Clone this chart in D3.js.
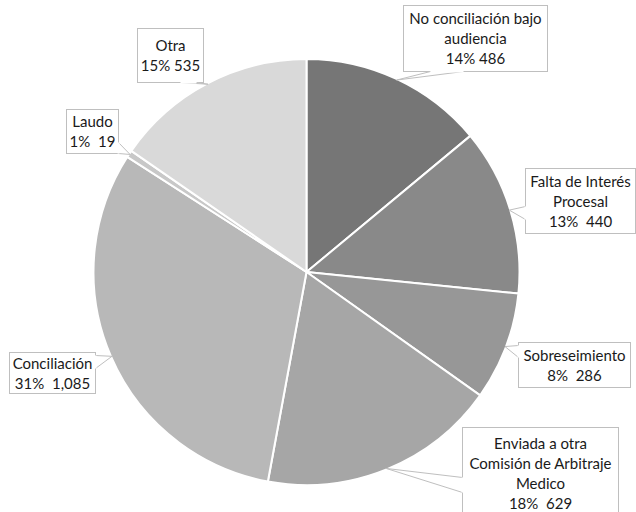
<!DOCTYPE html>
<html>
<head>
<meta charset="utf-8">
<script src="https://cdn.jsdelivr.net/npm/d3@7"></script>
<style>
  html, body { margin: 0; padding: 0; background: #ffffff; }
  svg { display: block; }
  .lbl { font-family: Lato, "Open Sans", sans-serif; font-size: 15px; fill: #1a1a1a; white-space: pre; }
</style>
</head>
<body>
<div id="chart"></div>
<script>
// Data
const categories = [
    ['No conciliación bajo', 'audiencia'],
    ['Falta de Interés', 'Procesal'],
    ['Sobreseimiento'],
    ['Enviada a otra', 'Comisión de Arbitraje', 'Medico'],
    ['Conciliación'],
    ['Laudo'],
    ['Otra']
];
const values = [486, 440, 286, 629, 1085, 19, 535];
const valueGaps = [' ', '  ', '  ', '  ', '  ', '  ', ' '];
const sliceColors = ['#767676', '#898989', '#979797', '#a6a6a6', '#b8b8b8', '#c8c8c8', '#d9d9d9'];

// Callout boxes: [x, y, width, height], pointer base points on the box edge
const boxes = [
    { box: [403, 5, 144, 66], base: [[430, 71], [463, 71]] },
    { box: [525, 168, 110, 65], base: [[525, 206], [525, 219]] },
    { box: [518, 342, 112, 45], base: [[518, 345], [518, 357]] },
    { box: [462, 427, 156, 92], base: [[462, 477], [462, 492]] },
    { box: [9, 352, 86, 41], base: [[95, 355], [95, 368]] },
    { box: [66, 109, 52, 44], base: [[118, 142], [118, 153]] },
    { box: [137, 28, 66, 54], base: [[180, 82], [196, 82]] }
];

const width = 636, height = 512;
const cx = 306.5, cy = 272, radius = 213;

const svg = d3.select('#chart')
    .append('svg')
    .attr('width', width)
    .attr('height', height);

svg.append('rect')
    .attr('width', width)
    .attr('height', height)
    .attr('fill', '#ffffff');

const total = d3.sum(values);

const pie = d3.pie()
    .sort(null)
    .value(d => d);

const arcs = pie(values);

const arc = d3.arc()
    .innerRadius(0)
    .outerRadius(radius);

// Used to find where each callout points on the rim
const rimArc = d3.arc()
    .innerRadius(radius - 1)
    .outerRadius(radius - 1);

const g = svg.append('g')
    .attr('transform', `translate(${cx}, ${cy})`);

g.selectAll('path.slice')
    .data(arcs)
    .enter()
    .append('path')
    .attr('class', 'slice')
    .attr('d', arc)
    .attr('fill', (d, i) => sliceColors[i])
    .attr('stroke', '#ffffff')
    .attr('stroke-width', 2)
    .attr('stroke-linejoin', 'round');

// Callouts
const callouts = svg.append('g');

arcs.forEach((d, i) => {
    const b = boxes[i];
    const [bx, by, bw, bh] = b.box;
    const c = rimArc.centroid(d);
    const tip = [cx + c[0], cy + c[1]];

    callouts.append('rect')
        .attr('x', bx + 0.5)
        .attr('y', by + 0.5)
        .attr('width', bw)
        .attr('height', bh)
        .attr('fill', '#ffffff')
        .attr('stroke', '#bfbfbf')
        .attr('stroke-width', 1);

    // pointer wedge
    const [p1, p2] = b.base;
    callouts.append('path')
        .attr('d', `M${p1[0] + 0.5},${p1[1] + 0.5} L${tip[0]},${tip[1]} L${p2[0] + 0.5},${p2[1] + 0.5}`)
        .attr('fill', '#ffffff')
        .attr('stroke', '#bfbfbf')
        .attr('stroke-width', 1);

    callouts.append('line')
        .attr('x1', p1[0] + 0.5)
        .attr('y1', p1[1] + 0.5)
        .attr('x2', p2[0] + 0.5)
        .attr('y2', p2[1] + 0.5)
        .attr('stroke', '#ffffff')
        .attr('stroke-width', 2);

    const pct = Math.round(values[i] / total * 100) + '%';
    const lines = categories[i].concat([pct + valueGaps[i] + d3.format(',')(values[i])]);
    const lineH = 20;
    const midY = by + bh / 2 + 1;
    const firstY = midY - (lines.length - 1) * lineH / 2;

    const text = callouts.append('text')
        .attr('class', 'lbl')
        .attr('text-anchor', 'middle');

    lines.forEach((ln, j) => {
        text.append('tspan')
            .attr('x', bx + bw / 2 + 0.5)
            .attr('y', firstY + j * lineH)
            .attr('dy', '0.35em')
            .text(ln);
    });
});
</script>
</body>
</html>
